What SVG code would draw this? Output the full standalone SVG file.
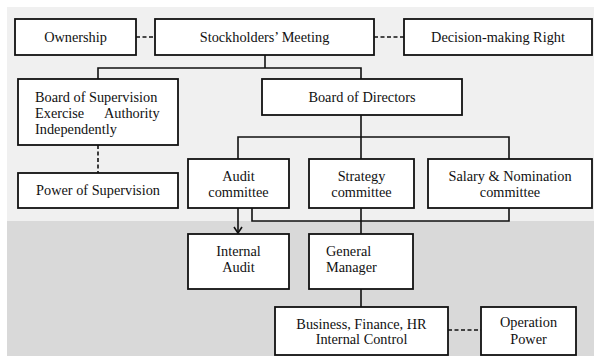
<svg xmlns="http://www.w3.org/2000/svg" width="594" height="356" viewBox="0 0 594 356">
<defs>
<style>
.box{fill:#fff;stroke:#111;stroke-width:1.8}
text{font-family:'Liberation Serif','Times New Roman','DejaVu Serif',serif;font-size:14.3px;fill:#111;text-anchor:middle}
text.l{text-anchor:start}
.c{fill:none;stroke:#111;stroke-width:1.6}
.d{fill:none;stroke:#111;stroke-width:1.6;stroke-dasharray:4 2.5}
</style>
<marker id="arr" markerWidth="10" markerHeight="10" refX="8" refY="5" orient="auto" markerUnits="userSpaceOnUse" viewBox="0 0 10 10">
<polyline points="2,1 8,5 2,9" fill="none" stroke="#111" stroke-width="1.6"/>
</marker>
</defs>
<rect x="0" y="0" width="594" height="356" fill="#fff"/>
<rect x="7" y="7" width="587" height="214" fill="#f0f0f0"/>
<rect x="7" y="221" width="587" height="135" fill="#d9d9d9"/>
<g id="connectors">
<line class="d" x1="136" y1="37" x2="155" y2="37"/>
<line class="d" x1="374" y1="37" x2="404" y2="37"/>
<polyline class="c" points="265,55 265,68"/>
<polyline class="c" points="98,79 98,68 361,68 361,79"/>
<polyline class="c" points="361,115 361,137"/>
<polyline class="c" points="238,159 238,137 509,137 509,159"/>
<line class="c" x1="361" y1="137" x2="361" y2="159"/>
<line class="d" x1="98" y1="145" x2="98" y2="173"/>
<line class="c" x1="238" y1="208" x2="238" y2="233" marker-end="url(#arr)"/>
<polyline class="c" points="252,208 252,221 509,221 509,208"/>
<line class="c" x1="361" y1="208" x2="361" y2="234"/>
<line class="c" x1="361" y1="289" x2="361" y2="307"/>
<line class="d" x1="448" y1="330" x2="481" y2="330"/>
</g>
<g id="ownership"><rect class="box" x="15" y="19" width="121" height="36"/><text x="75.5" y="41.5">Ownership</text></g>
<g id="stockholders"><rect class="box" x="155" y="19" width="219" height="36"/><text x="264.5" y="41.5">Stockholders’ Meeting</text></g>
<g id="decision"><rect class="box" x="404" y="19" width="188" height="36"/><text x="498" y="41.5">Decision-making Right</text></g>
<g id="supervision"><rect class="box" x="18" y="79" width="160" height="66"/><text class="l" x="35" y="101.5">Board of Supervision</text><text class="l" y="117.5"><tspan x="35">Exercise</tspan><tspan x="104">Authority</tspan></text><text class="l" x="35" y="134">Independently</text></g>
<g id="directors"><rect class="box" x="262" y="79" width="200" height="36"/><text x="362" y="101.5">Board of Directors</text></g>
<g id="power-supervision"><rect class="box" x="18" y="173" width="160" height="35"/><text x="98" y="195">Power of Supervision</text></g>
<g id="audit"><rect class="box" x="188" y="159" width="101" height="49"/><text x="238.5" y="181">Audit</text><text x="238.5" y="197">committee</text></g>
<g id="strategy"><rect class="box" x="309" y="159" width="105" height="49"/><text x="361.5" y="181">Strategy</text><text x="361.5" y="197">committee</text></g>
<g id="salary"><rect class="box" x="428" y="159" width="164" height="49"/><text x="510" y="181">Salary &amp; Nomination</text><text x="510" y="197">committee</text></g>
<g id="internal-audit"><rect class="box" x="188" y="234" width="101" height="55"/><text x="238.5" y="256">Internal</text><text x="238.5" y="272">Audit</text></g>
<g id="general-manager"><rect class="box" x="309" y="234" width="104" height="55"/><text class="l" x="326" y="256">General</text><text class="l" x="326" y="272">Manager</text></g>
<g id="business"><rect class="box" x="275" y="307" width="173" height="48"/><text x="361.5" y="329">Business, Finance, HR</text><text x="361.5" y="344">Internal Control</text></g>
<g id="operation"><rect class="box" x="481" y="307" width="95" height="48"/><text x="528.5" y="327">Operation</text><text x="528.5" y="344">Power</text></g>
</svg>
